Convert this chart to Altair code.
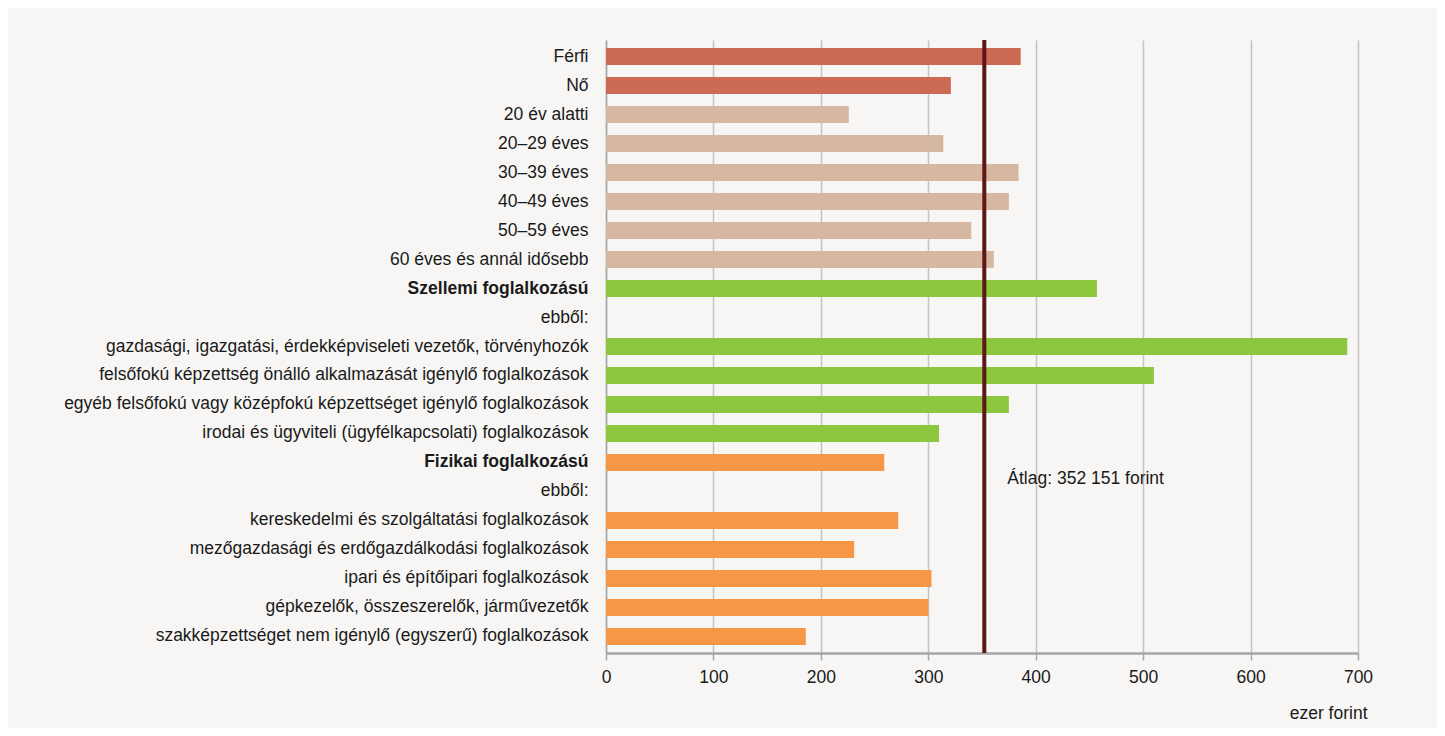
import altair as alt
import pandas as pd

categories = [
    "Férfi", "Nő", "20 év alatti", "20–29 éves", "30–39 éves", "40–49 éves",
    "50–59 éves", "60 éves és annál idősebb", "Szellemi foglalkozású", "ebből:|1",
    "gazdasági, igazgatási, érdekképviseleti vezetők, törvényhozók",
    "felsőfokú képzettség önálló alkalmazását igénylő foglalkozások",
    "egyéb felsőfokú vagy középfokú képzettséget igénylő foglalkozások",
    "irodai és ügyviteli (ügyfélkapcsolati) foglalkozások",
    "Fizikai foglalkozású", "ebből:|2",
    "kereskedelmi és szolgáltatási foglalkozások",
    "mezőgazdasági és erdőgazdálkodási foglalkozások",
    "ipari és építőipari foglalkozások",
    "gépkezelők, összeszerelők, járművezetők",
    "szakképzettséget nem igénylő (egyszerű) foglalkozások",
]
values = [386, 321, 226, 314, 384, 375, 340, 361, 457, None, 690, 510, 375, 310,
          259, None, 272, 231, 303, 300, 186]
groups = ["nem", "nem", "kor", "kor", "kor", "kor", "kor", "kor",
          "szellemi", "szellemi", "szellemi", "szellemi", "szellemi", "szellemi",
          "fizikai", "fizikai", "fizikai", "fizikai", "fizikai", "fizikai", "fizikai"]
group_names = ["nem", "kor", "szellemi", "fizikai"]
group_colors = ["#cb6b55", "#d6b7a2", "#8dc63f", "#f79646"]
bold_labels = ["Szellemi foglalkozású", "Fizikai foglalkozású"]
mean_value = 352.151
mean_label = "Átlag: 352 151 forint"
x_ticks = [0, 100, 200, 300, 400, 500, 600, 700]

FONT = "Liberation Sans Narrow, Liberation Sans, Arial, sans-serif"
FS = 17.5

df = pd.DataFrame({"cat": categories, "val": values, "grp": groups})
bars_df = df.dropna(subset=["val"])

bold_test = "indexof([" + ",".join("'" + b + "'" for b in bold_labels) + "], datum.value) >= 0"

y_enc = alt.Y(
    "cat:N",
    scale=alt.Scale(domain=categories, paddingInner=0.42, paddingOuter=0.28),
    axis=alt.Axis(
        title=None, ticks=False, domain=True, domainColor="#a6a6a6", domainWidth=1.5,
        labelPadding=18, labelFontSize=FS, labelColor="#1a1a1a", labelFont=FONT,
        labelLimit=600,
        labelExpr="split(datum.label, '|')[0]",
        labelFontWeight={
            "condition": {"test": bold_test, "value": "bold"},
            "value": "normal",
        },
    ),
)

x_enc = alt.X(
    "val:Q",
    scale=alt.Scale(domain=[0, 700], nice=False),
    axis=alt.Axis(
        values=x_ticks, title="ezer forint", grid=True, gridColor="#c4c4c4",
        gridWidth=1.5, domainColor="#a6a6a6", domainWidth=2.5, tickColor="#a6a6a6",
        tickSize=7, tickWidth=1.5, labelPadding=8, labelFontSize=FS, labelFont=FONT,
        labelFlush=False,
        labelColor="#1a1a1a", titleFont=FONT, titleFontSize=FS,
        titleFontWeight="normal", titleColor="#1a1a1a", titleAnchor="end",
        titleAlign="right", titleBaseline="middle", titleX=761, titleY=60,
    ),
)

bars = alt.Chart(bars_df).mark_bar().encode(
    x=x_enc,
    y=y_enc,
    color=alt.Color("grp:N", scale=alt.Scale(domain=group_names, range=group_colors),
                    legend=None),
)

mean_df = pd.DataFrame({"m": [mean_value], "label": [mean_label],
                        "row": ["Fizikai foglalkozású"]})

rule = alt.Chart(mean_df).mark_rule(color="#5e1717", strokeWidth=4).encode(
    x=alt.X("m:Q"),
)

label = alt.Chart(mean_df).mark_text(
    align="left", baseline="middle", dx=23, dy=17, fontSize=FS, font=FONT,
    color="#1a1a1a",
).encode(
    x=alt.X("m:Q"),
    y=alt.Y("row:N", scale=alt.Scale(domain=categories)),
    text="label:N",
)

chart = alt.layer(bars, rule, label).properties(
    width=752, height=613,
    background="#f7f6f4",
    padding={"left": 598, "top": 32, "right": 79, "bottom": 75},
    autosize=alt.AutoSizeParams(type="none"),
).configure_view(stroke=None)

chart.save("out.html", embed_options={"renderer": "svg", "actions": False})
